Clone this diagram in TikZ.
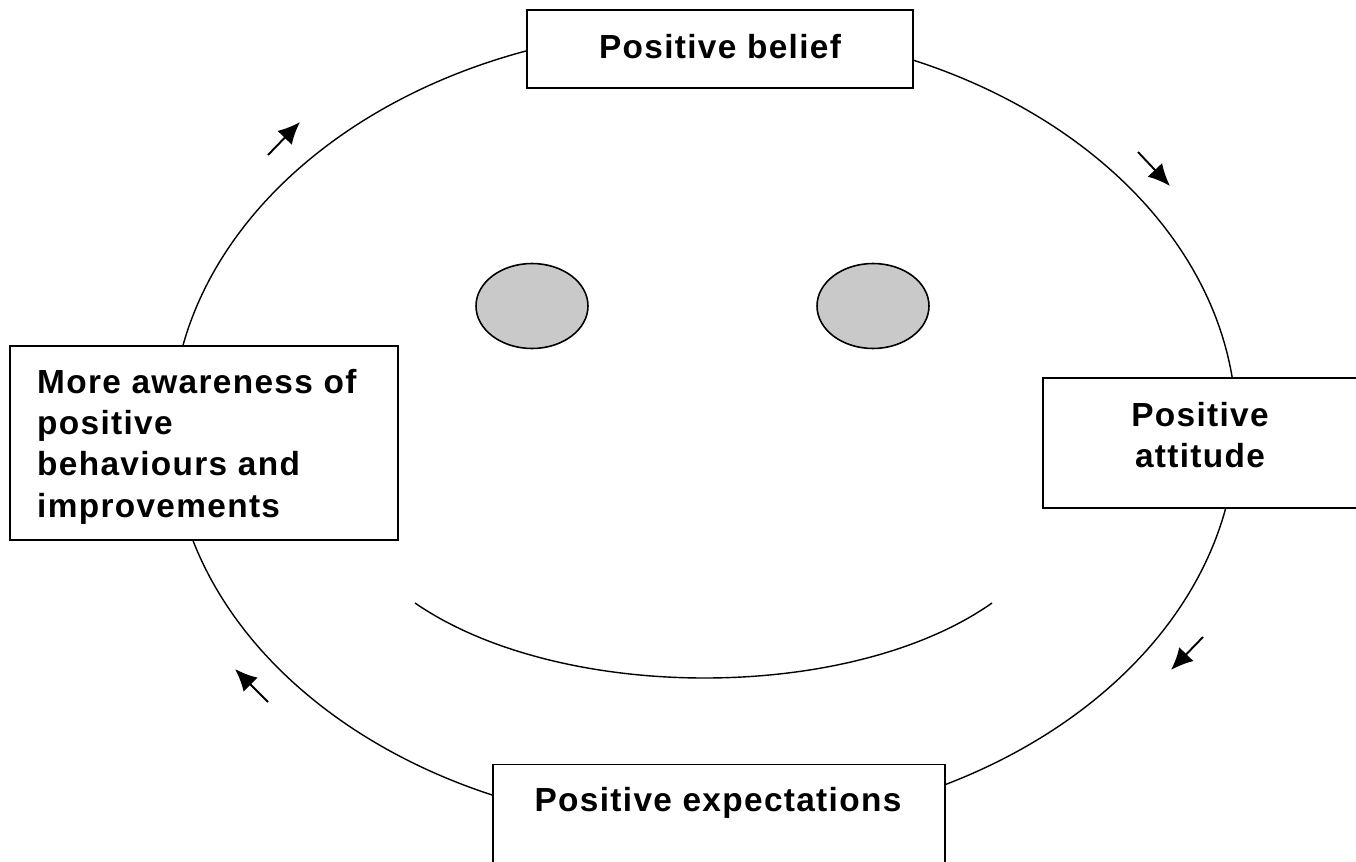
\documentclass[tikz,border=0pt]{standalone}
\usepackage{fontspec}
\setmainfont{Liberation Sans}[LetterSpace=4]
\usetikzlibrary{arrows.meta, positioning, shapes.geometric}
\tikzset{
	block/.style={draw, line width=1pt, fill=white},
	label/.style={font=\bfseries\fontsize{19}{23.5}\selectfont},
	eye/.style={draw, line width=0.9pt, fill=black!21, ellipse},
	cue/.style={-{Latex[length=4.4mm, width=4mm]}, line width=1.1pt}
}

\begin{document}
\begin{tikzpicture}[x=0.02cm, y=-0.02cm]
		\useasboundingbox (0,0) rectangle (1356,862);
		
		% face
		\node[draw, line width=0.8pt, ellipse, minimum width=21.3cm, minimum height=16cm] (face) at (704,428) {};
		\node[eye, minimum width=2.24cm, minimum height=1.7cm] (lefteye) at (532,306) {};
		\node[eye, minimum width=2.24cm, minimum height=1.7cm] (righteye) at (873,306) {};
		\coordinate (smileL) at (415,603);
		\coordinate (smileR) at (992,603);
		\draw[line width=0.8pt] (smileL) .. controls (560,703) and (850,703) .. (smileR);
		
		% boxes
		\node[block, minimum width=7.72cm, minimum height=1.56cm] (belief) at (720,49) {};
		\node[label] at (720,47) {Positive belief};
		
		\node[block, minimum width=6.4cm, minimum height=2.6cm] (attitude) at (1203,443) {};
		\node[label, align=center] at (1200,435) {Positive\\attitude};
		
		\node[block, minimum width=9.04cm, minimum height=2.1cm] (expectations) at (719,817) {};
		\node[label] at (718,803) {Positive expectations};
		
		\node[block, minimum width=7.76cm, minimum height=3.88cm] (awareness) at (204,443) {};
		\node[label, align=left, anchor=north west] at (31,363) {More awareness of\\positive\\behaviours and\\improvements};
		
		% direction cues
		\coordinate (cueA1) at (268,155); \coordinate (cueA2) at (300,122);
		\coordinate (cueB1) at (1138,152); \coordinate (cueB2) at (1170,186);
		\coordinate (cueC1) at (1203,637); \coordinate (cueC2) at (1171,670);
		\coordinate (cueD1) at (268,702); \coordinate (cueD2) at (235,669);
		\draw[cue] (cueA1) -- (cueA2);
		\draw[cue] (cueB1) -- (cueB2);
		\draw[cue] (cueC1) -- (cueC2);
		\draw[cue] (cueD1) -- (cueD2);
	\end{tikzpicture}
\end{document}
